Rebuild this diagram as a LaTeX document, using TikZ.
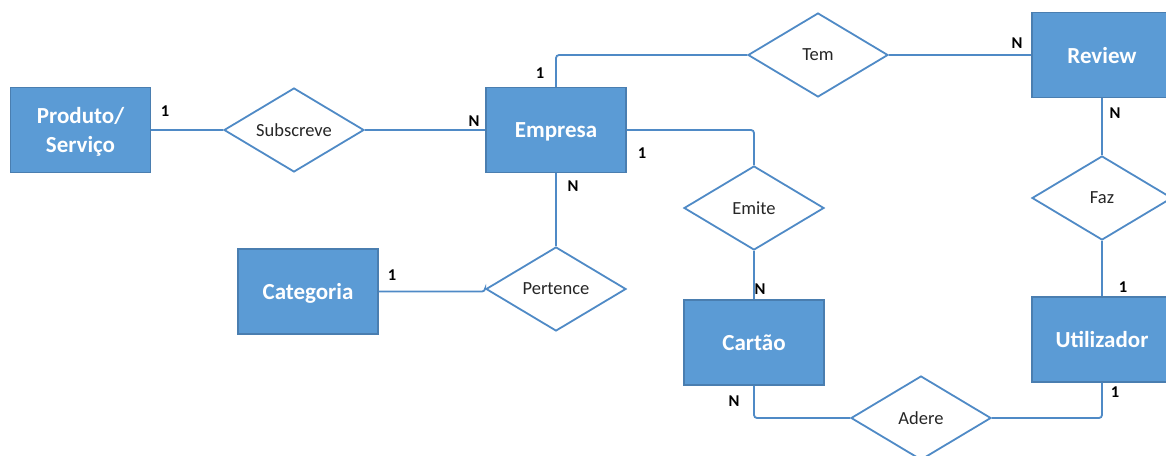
\documentclass[tikz,border=0pt]{standalone}
\usepackage{fontspec}
\setmainfont{Carlito}
\usetikzlibrary{shapes.geometric}
\definecolor{entfill}{HTML}{5B9BD5}
\definecolor{entborder}{HTML}{4A7EB0}
\definecolor{linkblue}{HTML}{4F8AC6}
\definecolor{reltext}{HTML}{262626}
\tikzset{
  entity/.style={rectangle, draw=entborder, line width=1.4pt, fill=entfill,
    minimum width=140pt, minimum height=85pt, inner sep=0pt, text depth=0pt,
    text=white, align=center, font=\bfseries\fontsize{23}{29}\selectfont},
  relation/.style={diamond, draw=linkblue, line width=1.8pt, fill=white,
    aspect=1.65, minimum width=140pt, minimum height=84pt, inner sep=0pt,
    text=reltext, font=\fontsize{18.5}{22}\selectfont},
  link/.style={draw=linkblue, line width=1.8pt, rounded corners=3pt},
  card/.style={inner sep=0pt, font=\bfseries\fontsize{16.5}{19}\selectfont}
}
\begin{document}
\begin{tikzpicture}[x=1pt, y=-1pt]
  \useasboundingbox (0,0) rectangle (1166,455);

  % entities
  \node[entity] (prod) at (80.5,130) {Produto/\\Serviço};
  \node[entity] (emp)  at (556,130) {Empresa};
  \node[entity] (rev)  at (1102,55) {Review};
  \node[entity] (cat)  at (308,291.5) {Categoria};
  \node[entity] (cart) at (754,342.5) {Cartão};
  \node[entity] (util) at (1102,339.5) {Utilizador};

  % relationships
  \node[relation] (subs) at (294,130) {Subscreve};
  \node[relation] (tem)  at (818,55) {Tem};
  \node[relation] (emi)  at (754,208) {Emite};
  \node[relation] (pert) at (556,289) {Pertence};
  \node[relation] (faz)  at (1102,198) {Faz};
  \node[relation] (ade)  at (921,418) {Adere};

  % connectors
  \draw[link] (prod.east) -- (subs.west);
  \draw[link] (subs.east) -- (emp.west);
  \draw[link] (emp.north) |- (tem.west);
  \draw[link] (tem.east) -- (rev.west);
  \draw[link] (emp.east) -| (emi.north);
  \draw[link] (emi.south) -- (cart.north);
  \draw[link] (emp.south) -- (pert.north);
  \draw[link] (cat.east) -- (cat.east -| pert.west) -- (pert.west);
  \draw[link] (rev.south) -- (faz.north);
  \draw[link] (faz.south) -- (util.north);
  \draw[link] (cart.south) |- (ade.west);
  \draw[link] (ade.east) -| (util.south);

  % cardinalities
  \node[card] (c1)  at (165,111) {1};
  \node[card] (c2)  at (474,121) {N};
  \node[card] (c3)  at (540,73)  {1};
  \node[card] (c4)  at (642,153) {1};
  \node[card] (c5)  at (573,186) {N};
  \node[card] (c6)  at (1017,43) {N};
  \node[card] (c7)  at (1115,113) {N};
  \node[card] (c8)  at (392,275) {1};
  \node[card] (c9)  at (760,289) {N};
  \node[card] (c10) at (734,401) {N};
  \node[card] (c11) at (1123,287) {1};
  \node[card] (c12) at (1115,392) {1};
\end{tikzpicture}
\end{document}
